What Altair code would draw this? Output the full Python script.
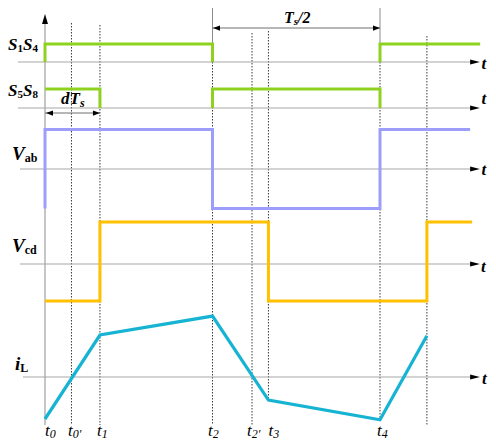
import altair as alt
import pandas as pd

# ---------------- data (time in units of Ts, levels in signal units) ----------------
EVENT_NAMES = ["0", "0'", "1", "2", "2'", "3", "4"]
EVENT_TIMES = [0.0, 0.079, 0.164, 0.5, 0.618, 0.667, 1.0]
T5 = 1.14

S14_T = [0.0, 0.0, 0.5, 0.5, 1.0, 1.0, 1.299]
S14_L = [0, 1, 1, 0, 0, 1, 1]
S14_SEG = [0, 0, 0, 0, 1, 1, 1]

S58_T = [0.0, 0.164, 0.164, 0.5, 0.5, 1.0, 1.0]
S58_L = [1, 1, 0, 0, 1, 1, 0]
S58_SEG = [0, 0, 0, 1, 1, 1, 1]

VAB_T = [0.0, 0.0, 0.5, 0.5, 1.0, 1.0, 1.269]
VAB_L = [-1, 1, 1, -1, -1, 1, 1]

VCD_T = [0.0, 0.164, 0.164, 0.667, 0.667, 1.14, 1.14, 1.275]
VCD_L = [-0.88, -0.88, 1, 1, -0.88, -0.88, 1, 1]

IL_T = [0.0, 0.164, 0.5, 0.667, 1.0, 1.14]
IL_L = [-1.0, 1.0, 1.45, -0.55, -1.02, 0.98]

# ---------------- layout ----------------
W, H = 480, 432
PX_TS = 335.0          # pixels per Ts
X0 = 37.0              # plot pixel of t = 0
XMIN, XMAX = -X0 / PX_TS, (W - X0) / PX_TS
FONT = "Liberation Serif"


def tx(X):  # picture pixel -> time units
    return (X - 45.0) / PX_TS


def vy(Y):  # picture pixel -> vertical units
    return 440.0 - Y


ROWS = ["S14", "S58", "VAB", "VCD", "IL"]
ROW_BASE = dict(zip(ROWS, [vy(62), vy(108), vy(169), vy(264), vy(377)]))
ROW_GAIN = dict(zip(ROWS, [18, 19, 39.5, 42, 42]))
ROW_COLOR = dict(zip(ROWS, ["#8ed11f", "#8ed11f", "#9d9dfb", "#ffc000", "#17b3d3"]))
ROW_WIDTH = dict(zip(ROWS, [3, 3, 3, 3, 3.2]))
AXIS_START = dict(zip(ROWS, [tx(18), tx(18), tx(20), tx(20), tx(23)]))
AXIS_END = tx(474)
ARROW_T = tx(475)
HALF_DIM_Y = 28

xs = alt.Scale(domain=[XMIN, XMAX], nice=False, zero=False)
ys = alt.Scale(domain=[0, H], nice=False, zero=False)


def X(f="t"):
    return alt.X(f + ":Q", scale=xs, axis=None)


def Y(f="v"):
    return alt.Y(f + ":Q", scale=ys, axis=None)


# signal table
sig_rows = []
series = {
    "S14": (S14_T, S14_L, S14_SEG),
    "S58": (S58_T, S58_L, S58_SEG),
    "VAB": (VAB_T, VAB_L, [0] * len(VAB_T)),
    "VCD": (VCD_T, VCD_L, [0] * len(VCD_T)),
    "IL": (IL_T, IL_L, [0] * len(IL_T)),
}
for r, (ts, ls, segs) in series.items():
    for i, (t, l, s) in enumerate(zip(ts, ls, segs)):
        sig_rows.append(dict(row=r, t=t, v=ROW_BASE[r] + l * ROW_GAIN[r], seg=s, idx=i))
sig = pd.DataFrame(sig_rows)

layers = []

# vertical guide lines
guides = pd.DataFrame([
    dict(t=EVENT_TIMES[1], v=vy(23), v2=vy(425), kind="dot"),
    dict(t=EVENT_TIMES[2], v=vy(25), v2=vy(425), kind="dot"),
    dict(t=EVENT_TIMES[3], v=vy(62), v2=vy(425), kind="dot"),
    dict(t=EVENT_TIMES[4], v=vy(33), v2=vy(425), kind="dot"),
    dict(t=EVENT_TIMES[5], v=vy(31), v2=vy(400), kind="dot"),
    dict(t=EVENT_TIMES[6], v=vy(62), v2=vy(420), kind="dot"),
    dict(t=T5, v=vy(36), v2=vy(425), kind="dot"),
    dict(t=EVENT_TIMES[3], v=vy(8), v2=vy(62), kind="solid"),
    dict(t=EVENT_TIMES[6], v=vy(8), v2=vy(62), kind="solid"),
    dict(t=0.0, v=vy(22), v2=vy(425), kind="solid"),
])
layers.append(alt.Chart(guides[guides.kind == "dot"]).mark_rule(
    color="#3a3a3a", strokeWidth=1, strokeDash=[1.5, 1.5]).encode(x=X(), y=Y(), y2="v2:Q"))
layers.append(alt.Chart(guides[guides.kind == "solid"]).mark_rule(
    color="#8c8c8c", strokeWidth=1).encode(x=X(), y=Y(), y2="v2:Q"))

# horizontal time axes
axes = pd.DataFrame([dict(t=AXIS_START[r], t2=AXIS_END, v=ROW_BASE[r]) for r in ROWS])
layers.append(alt.Chart(axes).mark_rule(color="#a8a8a8", strokeWidth=1.2).encode(
    x=X(), x2="t2:Q", y=Y()))

# dimension lines
dims = pd.DataFrame([
    dict(t=0.0, t2=EVENT_TIMES[2], v=vy(113)),
    dict(t=EVENT_TIMES[3], t2=EVENT_TIMES[6], v=vy(HALF_DIM_Y)),
])
layers.append(alt.Chart(dims).mark_rule(color="#6e6e6e", strokeWidth=1).encode(
    x=X(), x2="t2:Q", y=Y()))

# arrowheads
RIGHT_BIG = "M-1,-0.5L1,0L-1,0.5Z"
UP_BIG = "M-0.6,1L0,-1L0.6,1Z"
RIGHT_SMALL = "M-1,-0.75L1,0L-1,0.75Z"
LEFT_SMALL = "M1,-0.75L-1,0L1,0.75Z"
arr_big = pd.DataFrame([dict(t=ARROW_T, v=ROW_BASE[r]) for r in ROWS])
layers.append(alt.Chart(arr_big).mark_point(shape=RIGHT_BIG, size=95, filled=True,
                                            color="black", opacity=1, strokeWidth=0).encode(x=X(), y=Y()))
layers.append(alt.Chart(pd.DataFrame([dict(t=0.0, v=vy(19))])).mark_point(
    shape=UP_BIG, size=100, filled=True, color="black", opacity=1, strokeWidth=0).encode(x=X(), y=Y()))
arr_r = pd.DataFrame([dict(t=EVENT_TIMES[2] - 3.5 / PX_TS, v=vy(113)),
                      dict(t=EVENT_TIMES[6] - 3.5 / PX_TS, v=vy(HALF_DIM_Y))])
arr_l = pd.DataFrame([dict(t=0.0 + 4.5 / PX_TS, v=vy(113)),
                      dict(t=EVENT_TIMES[3] + 4 / PX_TS, v=vy(HALF_DIM_Y))])
layers.append(alt.Chart(arr_r).mark_point(shape=RIGHT_SMALL, size=49, filled=True,
                                          color="black", opacity=1, strokeWidth=0).encode(x=X(), y=Y()))
layers.append(alt.Chart(arr_l).mark_point(shape=LEFT_SMALL, size=49, filled=True,
                                          color="black", opacity=1, strokeWidth=0).encode(x=X(), y=Y()))

# signals
for r in ROWS:
    layers.append(alt.Chart(sig[sig.row == r]).mark_line(
        color=ROW_COLOR[r], strokeWidth=ROW_WIDTH[r], strokeJoin="miter", strokeCap="butt").encode(
        x=X(), y=Y(), detail="seg:N", order="idx:Q"))

# ---------------- text ----------------
CW = {"S": 0.556, "T": 0.611, "V": 0.667, "d": 0.5, "i": 0.278, "t": 0.278, "/": 0.278,
      "a": 0.5, "b": 0.556, "c": 0.444, "L": 0.667, "s": 0.389, "'": 0.25}


def run(Xp, Yp, pieces):
    out = []
    for text, style, size, dy in pieces:
        out.append(dict(t=tx(Xp), v=vy(Yp + dy), text=text, size=size, style=style))
        Xp += sum(CW.get(c, 0.5) for c in text) * size
    return out


txt = []
txt += run(8, 50, [("S", "bi", 17, 0), ("1", "b", 11, 2), ("S", "bi", 17, 0), ("4", "b", 11, 2)])
txt += run(8, 96, [("S", "bi", 17, 0), ("5", "b", 11, 2), ("S", "bi", 17, 0), ("8", "b", 11, 2)])
txt += run(12, 160, [("V", "bi", 19, 0), ("ab", "b", 12, 2)])
txt += run(12, 252, [("V", "bi", 19, 0), ("cd", "b", 12, 2)])
txt += run(15, 370, [("i", "bi", 19, 0), ("L", "b", 12, 2)])
txt += run(61, 104, [("dT", "bi", 17, 0), ("s", "bi", 12, 3)])
txt += run(284, 23, [("T", "bi", 16, 0), ("s", "bi", 11, 2), ("/2", "bi", 16, 0)])
for Xr, Yr in [(481.5, 69), (481.5, 104), (481.5, 175), (481, 272), (482, 384)]:
    txt += run(Xr, Yr, [("t", "bi", 17, 0)])
LABEL_SHIFT = [0, -3.5, -3, -4.5, -5, 0, -3]
for name, tt, sh in zip(EVENT_NAMES, EVENT_TIMES, LABEL_SHIFT):
    txt += run(45 + tt * PX_TS + sh, 436, [("t", "i", 17, 0), (name, "i", 12, 2)])
txtdf = pd.DataFrame(txt)

STYLES = {"bi": dict(fontStyle="italic", fontWeight="bold"),
          "b": dict(fontStyle="normal", fontWeight="bold"),
          "i": dict(fontStyle="italic", fontWeight="normal")}
for s, kw in STYLES.items():
    layers.append(alt.Chart(txtdf[txtdf["style"] == s]).mark_text(
        align="left", baseline="alphabetic", font=FONT, color="black", **kw).encode(
        x=X(), y=Y(), text="text:N", size=alt.Size("size:Q", scale=None)))

chart = alt.layer(*layers).properties(
    width=W, height=H, padding=0, autosize=alt.AutoSizeParams(type="none"),
    background="white",
).configure_view(stroke=None)

chart.save("out.html", embed_options={"renderer": "svg", "actions": False})
